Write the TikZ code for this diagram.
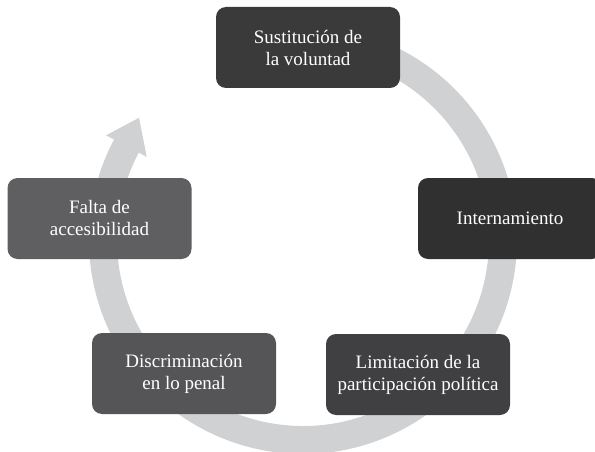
\documentclass[tikz,border=0pt]{standalone}
\usepackage{fontspec}
\setmainfont{Liberation Serif}
\usetikzlibrary{calc}
\definecolor{ringgray}{RGB}{208,209,211}
\definecolor{boxA}{RGB}{58,58,58}
\definecolor{boxB}{RGB}{48,48,48}
\definecolor{boxC}{RGB}{64,64,66}
\definecolor{boxD}{RGB}{85,85,87}
\definecolor{boxE}{RGB}{95,95,97}
\tikzset{
  stagebox/.style={rounded corners=10pt, minimum width=184pt, minimum height=81pt,
    text=white, align=center, inner sep=0pt, font=\fontsize{19}{22}\selectfont},
  ringline/.style={draw=ringgray, line width=28pt, line cap=butt},
}
\begin{document}
\begin{tikzpicture}[x=1pt,y=1pt]
\useasboundingbox (0,0) rectangle (595,451);
\coordinate (c) at (303,211);
% ring
\draw[ringline] ($(c)+(80:200)$) arc[start angle=80, end angle=-209, radius=200];
\coordinate (bl) at ($(c)+(152:177)$);
\coordinate (br) at ($(c)+(152:223)$);
\coordinate (tip) at ($(c)+(152:200)+(66:31)$);
\fill[ringgray] (bl) -- (br) -- (tip) -- cycle;
% boxes
\node[stagebox, fill=boxA] (s1) at (308,403.5) {Sustitución de\\la voluntad};
\node[stagebox, fill=boxB] (s2) at (510,232.5) {Internamiento};
\node[stagebox, fill=boxC] (s3) at (418,76.5) {Limitación de la\\participación política};
\node[stagebox, fill=boxD] (s4) at (184,77.5) {Discriminación\\en lo penal};
\node[stagebox, fill=boxE] (s5) at (99.5,232.5) {Falta de\\accesibilidad};
\end{tikzpicture}
\end{document}
